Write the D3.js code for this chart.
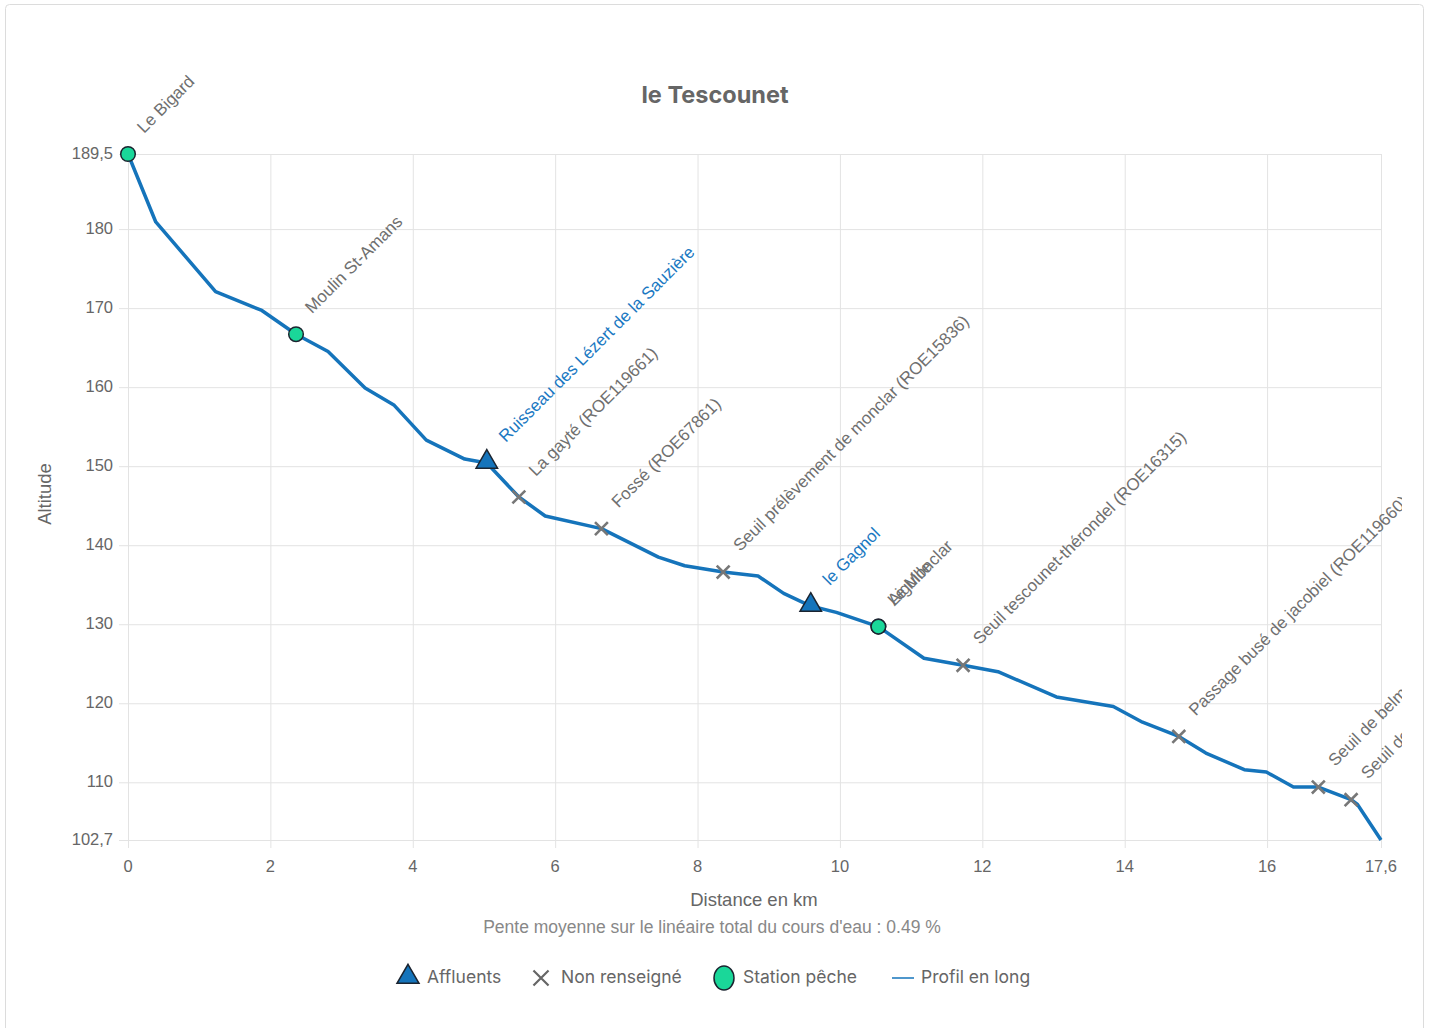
<!DOCTYPE html>
<html>
<head>
<meta charset="utf-8">
<script src="https://cdn.jsdelivr.net/npm/d3@7"></script>
<style>
  body { margin: 0; background: #fff; }
  #chart { width: 1432px; height: 1028px; }
  .tick-label { font-family: "Liberation Sans", Arial, sans-serif; font-size: 16.5px; fill: #666; }
  .grid line { stroke: #e3e3e3; stroke-width: 1; }
  .point-label { font-family: "Liberation Sans", Arial, sans-serif; font-size: 17px; }
</style>
</head>
<body>
<div id="chart"></div>
<script>
// profile (km, altitude)
const distances = [0, 0.39, 1.23, 1.88, 2.36, 2.81, 3.33, 3.74, 4.19, 4.73, 5.04, 5.49, 5.86, 6.65,
    7.45, 7.82, 8.36, 8.85, 9.21, 9.59, 9.95, 10.54, 11.18, 11.73, 12.22, 13.04, 13.84, 14.25,
    14.76, 15.14, 15.68, 15.99, 16.37, 16.72, 17.18, 17.27, 17.6];
const altitudes = [189.5, 180.9, 172.1, 169.7, 166.7, 164.5, 159.9, 157.7, 153.3, 150.9, 150.4, 146.1, 143.7, 142.1,
    138.5, 137.4, 136.6, 136.1, 133.9, 132.3, 131.5, 129.7, 125.7, 124.8, 124.0, 120.8, 119.6, 117.6,
    115.8, 113.7, 111.6, 111.3, 109.4, 109.4, 107.8, 107.2, 102.7];

// points of interest
const affluentsKm = [5.04, 9.59];
const affluentsAlt = [150.4, 132.3];
const affluentsNames = ['Ruisseau des Lézert de la Sauzière', 'le Gagnol'];

const obstaclesKm = [5.49, 6.65, 8.36, 11.73, 14.76, 16.72, 17.18];
const obstaclesAlt = [146.1, 142.1, 136.6, 124.8, 115.8, 109.4, 107.8];
const obstaclesNames = ['La gayté (ROE119661)', 'Fossé (ROE67861)', 'Seuil prélèvement de  monclar (ROE15836)',
    'Seuil tescounet-thérondel (ROE16315)', 'Passage busé de jacobiel (ROE119660)',
    'Seuil de belmont (ROE119659)', 'Seuil de la prade (ROE119658)'];

const stationsKm = [0, 2.36, 10.54, 10.54];
const stationsAlt = [189.5, 166.7, 129.7, 129.7];
const stationsNames = ['Le Bigard', 'Moulin St-Amans', 'Aiguille', 'Le Monclar'];

const xTicks = [0, 2, 4, 6, 8, 10, 12, 14, 16, 17.6];
const xTickLabels = ['0', '2', '4', '6', '8', '10', '12', '14', '16', '17,6'];
const yTicks = [189.5, 180, 170, 160, 150, 140, 130, 120, 110, 102.7];
const yTickLabels = ['189,5', '180', '170', '160', '150', '140', '130', '120', '110', '102,7'];

const legendNames = ['Affluents', 'Non renseigné', 'Station pêche', 'Profil en long'];

const lineColor = '#1574bb';
const greyText = '#666';
const baseFont = '"Liberation Sans", Arial, sans-serif';

const margin = { top: 154, right: 51, bottom: 188, left: 128 };
const W = 1432, H = 1028;
const width = W - margin.left - margin.right;
const height = H - margin.top - margin.bottom;

const svg = d3.select('#chart').append('svg')
    .attr('width', W)
    .attr('height', H);

// outer frame
svg.append('rect')
    .attr('x', 5.5).attr('y', 4.5)
    .attr('width', 1418).attr('height', 1030)
    .attr('rx', 4)
    .attr('fill', 'none')
    .attr('stroke', '#dcdcdc');

// labels are cut at the canvas edge, like the original
svg.append('defs').append('clipPath')
    .attr('id', 'clip')
    .append('rect')
    .attr('x', -margin.left).attr('y', -margin.top)
    .attr('width', 1402).attr('height', H);

const g = svg.append('g')
    .attr('transform', `translate(${margin.left},${margin.top})`);

const x = d3.scaleLinear().domain([0, 17.6]).range([0, width]);
const y = d3.scaleLinear().domain([102.7, 189.5]).range([height, 0]);

// grid
g.append('g')
    .attr('class', 'grid')
    .attr('transform', `translate(0,${height})`)
    .call(d3.axisBottom(x).tickValues(xTicks).tickSize(-height).tickFormat(''))
    .call(a => a.select('.domain').remove());
g.append('g')
    .attr('class', 'grid')
    .attr('transform', `translate(0,${height})`)
    .call(d3.axisBottom(x).tickValues(xTicks).tickSize(8).tickFormat(''))
    .call(a => a.select('.domain').remove());
g.append('g')
    .attr('class', 'grid')
    .call(d3.axisLeft(y).tickValues(yTicks).tickSize(-width).tickFormat(''))
    .call(a => a.select('.domain').remove());
g.append('g')
    .attr('class', 'grid')
    .call(d3.axisLeft(y).tickValues(yTicks).tickSize(9).tickFormat(''))
    .call(a => a.select('.domain').remove());

// tick labels
g.selectAll('.x-label')
    .data(xTicks)
    .join('text')
    .attr('class', 'tick-label')
    .attr('x', d => x(d))
    .attr('y', height + 32)
    .attr('text-anchor', 'middle')
    .text((d, i) => xTickLabels[i]);

g.selectAll('.y-label')
    .data(yTicks)
    .join('text')
    .attr('class', 'tick-label')
    .attr('x', -15)
    .attr('y', d => y(d) + 5)
    .attr('text-anchor', 'end')
    .text((d, i) => yTickLabels[i]);

// axis titles
g.append('text')
    .attr('transform', `translate(${-77},${height / 2 - 3}) rotate(-90)`)
    .attr('text-anchor', 'middle')
    .style('font-family', baseFont)
    .style('font-size', '18.5px')
    .style('fill', greyText)
    .text('Altitude');

svg.append('text')
    .attr('x', 754).attr('y', 906)
    .attr('text-anchor', 'middle')
    .style('font-family', baseFont)
    .style('font-size', '18.5px')
    .style('fill', greyText)
    .text('Distance en km');

svg.append('text')
    .attr('x', 712).attr('y', 933)
    .attr('text-anchor', 'middle')
    .style('font-family', baseFont)
    .style('font-size', '17.5px')
    .style('fill', '#888')
    .text("Pente moyenne sur le linéaire total du cours d'eau : 0.49 %");

// title
svg.append('text')
    .attr('x', 715).attr('y', 103)
    .attr('text-anchor', 'middle')
    .style('font-family', 'Inter, "Open Sans", sans-serif')
    .style('font-size', '23.5px')
    .style('font-weight', '700')
    .style('fill', greyText)
    .text('le Tescounet');

// profile line
const profile = distances.map((d, i) => ({ km: d, alt: altitudes[i] }));
g.append('path')
    .datum(profile)
    .attr('fill', 'none')
    .attr('stroke', lineColor)
    .attr('stroke-width', 3.5)
    .attr('stroke-linejoin', 'round')
    .attr('d', d3.line().x(d => x(d.km)).y(d => y(d.alt)));

const labels = g.append('g').attr('clip-path', 'url(#clip)');

function addLabels(kms, alts, names, color, dx) {
    labels.selectAll(null)
        .data(names)
        .join('text')
        .attr('class', 'point-label')
        .attr('transform', (d, i) => `translate(${x(kms[i]) + dx},${y(alts[i]) - 20}) rotate(-45)`)
        .style('fill', color)
        .text(d => d);
}

addLabels(affluentsKm, affluentsAlt, affluentsNames, '#1a78c2', 19);
addLabels(obstaclesKm, obstaclesAlt, obstaclesNames, '#6f6f6f', 17);
addLabels(stationsKm, stationsAlt, stationsNames, '#6f6f6f', 16);

// markers
const triangle = d3.symbol().type(d3.symbolTriangle).size(200);
const cross = d3.symbol().type(d3.symbolX).size(110);

g.selectAll('.affluent')
    .data(affluentsKm)
    .join('path')
    .attr('class', 'affluent')
    .attr('transform', (d, i) => `translate(${x(d)},${y(affluentsAlt[i]) - 1})`)
    .attr('d', triangle)
    .attr('fill', '#1574bb')
    .attr('stroke', '#1b2430')
    .attr('stroke-width', 1.5);

g.selectAll('.obstacle')
    .data(obstaclesKm)
    .join('path')
    .attr('class', 'obstacle')
    .attr('transform', (d, i) => `translate(${x(d)},${y(obstaclesAlt[i])})`)
    .attr('d', cross)
    .attr('fill', 'none')
    .attr('stroke', '#777')
    .attr('stroke-width', 2.6);

g.selectAll('.station')
    .data(stationsKm)
    .join('circle')
    .attr('class', 'station')
    .attr('cx', d => x(d))
    .attr('cy', (d, i) => y(stationsAlt[i]))
    .attr('r', 7.3)
    .attr('fill', '#1ad799')
    .attr('stroke', '#1b2430')
    .attr('stroke-width', 1.5);

// legend
const legend = svg.append('g').attr('transform', 'translate(0,977)');
const legendFont = 'Inter, "Open Sans", sans-serif';
const legendX = [408, 541, 724, 903];
const textX = [427, 561, 743, 921];

legend.append('path')
    .attr('transform', `translate(${legendX[0]},0)`)
    .attr('d', d3.symbol().type(d3.symbolTriangle).size(210))
    .attr('fill', '#1574bb')
    .attr('stroke', '#1b2430')
    .attr('stroke-width', 1.5);
legend.append('path')
    .attr('transform', `translate(${legendX[1]},1)`)
    .attr('d', d3.symbol().type(d3.symbolX).size(150))
    .attr('fill', 'none')
    .attr('stroke', '#666')
    .attr('stroke-width', 2.2);
legend.append('ellipse')
    .attr('cx', legendX[2]).attr('cy', 1)
    .attr('rx', 10).attr('ry', 12)
    .attr('fill', '#1ad799')
    .attr('stroke', '#1b2430')
    .attr('stroke-width', 1.5);
legend.append('line')
    .attr('x1', legendX[3] - 11).attr('x2', legendX[3] + 11)
    .attr('y1', 1).attr('y2', 1)
    .attr('stroke', lineColor)
    .attr('stroke-width', 1.5);

legend.selectAll('.legend-text')
    .data(legendNames)
    .join('text')
    .attr('x', (d, i) => textX[i])
    .attr('y', 6)
    .style('font-family', legendFont)
    .style('font-size', '17.5px')
    .style('fill', greyText)
    .text(d => d);
</script>
</body>
</html>
